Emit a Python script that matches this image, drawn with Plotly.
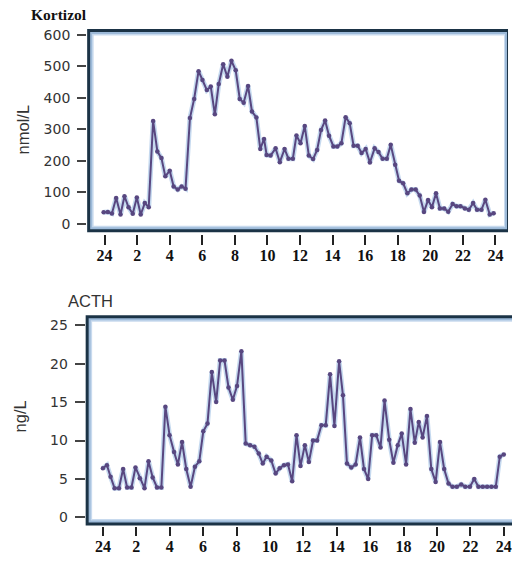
import plotly.graph_objects as go

W, H = 512, 561

# ---------------- data ----------------
hour_ticks = [0, 2, 4, 6, 8, 10, 12, 14, 16, 18, 20, 22, 24]
hour_labels = ["24", "2", "4", "6", "8", "10", "12", "14", "16", "18", "20", "22", "24"]
cort_ticks = [0, 100, 200, 300, 400, 500, 600]
acth_ticks = [0, 5, 10, 15, 20, 25]

hours_cort = [-0.06, 0.2, 0.45, 0.71, 0.98, 1.22, 1.47, 1.73, 1.98, 2.22, 2.47, 2.71, 2.98, 3.24,
              3.49, 3.73, 4.0, 4.24, 4.49, 4.73, 4.97, 5.24, 5.5, 5.77, 6.01, 6.28, 6.52, 6.77,
              7.01, 7.28, 7.54, 7.79, 8.05, 8.3, 8.54, 8.81, 9.05, 9.32, 9.56, 9.79, 9.95, 10.19,
              10.5, 10.76, 11.05, 11.29, 11.56, 11.78, 12.03, 12.29, 12.54, 12.8, 13.05, 13.29,
              13.54, 13.78, 14.05, 14.29, 14.54, 14.8, 15.05, 15.29, 15.54, 15.78, 16.03, 16.29,
              16.58, 16.82, 17.07, 17.33, 17.57, 17.84, 18.08, 18.33, 18.59, 18.84, 19.1, 19.35,
              19.61, 19.86, 20.1, 20.35, 20.59, 20.85, 21.1, 21.37, 21.61, 21.85, 22.12, 22.36,
              22.63, 22.87, 23.14, 23.38, 23.65, 23.89]
cortisol = [37, 38, 33, 82, 30, 88, 53, 32, 84, 30, 66, 53, 327, 230, 209, 151, 169, 119, 109, 119,
            112, 336, 397, 485, 457, 425, 436, 348, 444, 507, 467, 518, 488, 397, 385, 438, 357, 338,
            238, 270, 219, 217, 240, 196, 238, 207, 207, 281, 256, 311, 217, 206, 235, 298, 328, 280,
            246, 246, 256, 339, 320, 248, 248, 225, 238, 195, 240, 228, 207, 207, 251, 188, 137, 129,
            97, 109, 109, 90, 38, 76, 53, 97, 49, 49, 39, 63, 56, 56, 49, 45, 66, 45, 45, 77, 30, 34]

hours_acth = [0.0, 0.24, 0.46, 0.7, 0.96, 1.21, 1.45, 1.71, 1.95, 2.21, 2.49, 2.73, 2.98, 3.24, 3.5,
              3.74, 3.99, 4.26, 4.49, 4.74, 4.99, 5.25, 5.51, 5.77, 6.01, 6.26, 6.52, 6.78, 7.02,
              7.28, 7.52, 7.78, 8.03, 8.29, 8.55, 8.81, 9.07, 9.33, 9.57, 9.8, 10.08, 10.34, 10.58,
              10.84, 11.08, 11.33, 11.59, 11.83, 12.09, 12.33, 12.58, 12.82, 13.08, 13.34, 13.6,
              13.86, 14.14, 14.37, 14.61, 14.87, 15.13, 15.39, 15.63, 15.88, 16.12, 16.36, 16.62,
              16.86, 17.14, 17.39, 17.65, 17.89, 18.15, 18.41, 18.67, 18.91, 19.14, 19.4, 19.66,
              19.92, 20.18, 20.43, 20.69, 20.93, 21.19, 21.45, 21.69, 21.97, 22.23, 22.48, 22.74,
              23.0, 23.26, 23.52, 23.76, 24.0]
acth = [6.4, 6.8, 5.3, 3.8, 3.8, 6.3, 3.9, 3.9, 6.5, 5.1, 3.8, 7.3, 5.2, 3.9, 3.9, 14.4, 10.7, 8.5,
        6.9, 9.8, 6.3, 4.0, 6.6, 7.3, 11.2, 12.2, 18.9, 15.0, 20.4, 20.4, 16.9, 15.3, 17.1, 21.6,
        9.6, 9.4, 9.2, 8.3, 7.0, 7.9, 7.4, 5.7, 6.4, 6.8, 6.9, 4.7, 10.7, 6.7, 9.4, 7.2, 10.0, 10.0,
        12.0, 12.0, 18.6, 11.9, 20.3, 15.9, 7.0, 6.5, 6.9, 10.4, 6.3, 5.0, 10.7, 10.7, 9.1, 15.2,
        10.1, 7.1, 9.4, 10.9, 6.9, 14.1, 9.7, 12.4, 10.4, 13.2, 6.3, 4.6, 9.8, 6.3, 4.4, 4.0, 4.0,
        4.3, 4.0, 4.0, 5.0, 4.0, 4.0, 4.0, 4.0, 4.0, 7.9, 8.2]

# ---------------- styling ----------------
LINE = "#584780"
HALO = "rgba(150,185,225,0.55)"
DARK = "#1b3346"
BAND1 = "#9dbad9"
BAND2 = "#c8daee"


def px(x):
    return x / W


def py(y):
    return 1 - y / H


fig = go.Figure()
for xs, ys, xa, ya in [(hours_cort, cortisol, "x", "y"), (hours_acth, acth, "x2", "y2")]:
    fig.add_trace(go.Scatter(x=xs, y=ys, xaxis=xa, yaxis=ya, mode="lines",
                             line=dict(color=HALO, width=5), hoverinfo="skip", showlegend=False))
    fig.add_trace(go.Scatter(x=xs, y=ys, xaxis=xa, yaxis=ya, mode="lines+markers",
                             line=dict(color=LINE, width=2),
                             marker=dict(color=LINE, size=4.5), showlegend=False))

shapes = []


def frame(x0, y0, x1, y1):
    rects = [
        (x0, y0, x1, y1, DARK),
        (x0 + 3, y0 + 3, x1 - 1, y1 - 3, BAND1),
        (x0 + 5, y0 + 5, x1 - 3, y1 - 5, BAND2),
        (x0 + 6.5, y0 + 6.5, x1 - 4, y1 - 6.5, "white"),
    ]
    for a, b, c, d, col in rects:
        shapes.append(dict(type="rect", xref="paper", yref="paper",
                           x0=px(a), x1=px(c), y0=py(d), y1=py(b),
                           fillcolor=col, line=dict(width=0), layer="below"))


frame(87.5, 27, 510, 231)
frame(86, 314.3, 540, 525.3)

xtickfont = dict(family="Liberation Serif, Times New Roman, serif", size=16, color="#111", weight="bold")
ytickfont = dict(family="DejaVu Sans, Arial, sans-serif", size=14, color="#333")

common_x = dict(tickmode="array", tickvals=hour_ticks, ticktext=hour_labels, ticks="outside",
                tickwidth=2, tickcolor="#222", showgrid=False, zeroline=False, showline=False,
                tickfont=xtickfont, fixedrange=True, ticklabelstandoff=-3,
                ticklabeloverflow="allow")
common_y = dict(tickmode="array", ticks="outside", tickwidth=1.5, tickcolor="#444",
                showgrid=False, zeroline=False, showline=False, tickfont=ytickfont,
                fixedrange=True, ticklabelstandoff=4)

fig.update_layout(
    width=W, height=H, autosize=False,
    margin=dict(l=0, r=0, t=0, b=0),
    paper_bgcolor="white", plot_bgcolor="rgba(0,0,0,0)",
    showlegend=False,
    shapes=shapes,
    xaxis=dict(common_x, domain=[px(87.5), px(509)], range=[-1.070, 24.709], anchor="y", ticklen=10),
    yaxis=dict(common_y, domain=[py(232.5), py(27)], range=[-31.0, 619.3], anchor="x",
               tickvals=cort_ticks, ticklen=9),
    xaxis2=dict(common_x, domain=[px(86), 1.0], range=[-1.032, 24.371], anchor="y2", ticklen=9),
    yaxis2=dict(common_y, domain=[py(526), py(314.3)], range=[-1.127, 26.295], anchor="x2",
                tickvals=acth_ticks, ticklen=10),
    annotations=[
        dict(text="<b>Kortizol</b>", x=px(29), y=py(12.5), xref="paper", yref="paper",
             xanchor="left", yanchor="middle", showarrow=False,
             font=dict(family="Liberation Serif, Times New Roman, serif", size=15.5, color="#111")),
        dict(text="ACTH", x=px(66), y=py(300.5), xref="paper", yref="paper",
             xanchor="left", yanchor="middle", showarrow=False,
             font=dict(family="Liberation Sans, Arial, sans-serif", size=16.5, color="#333")),
        dict(text="nmol/L", x=px(23), y=py(128), xref="paper", yref="paper", textangle=-90,
             xanchor="center", yanchor="middle", showarrow=False,
             font=dict(family="Liberation Sans, Arial, sans-serif", size=16.5, color="#333")),
        dict(text="ng/L", x=px(20), y=py(416), xref="paper", yref="paper", textangle=-90,
             xanchor="center", yanchor="middle", showarrow=False,
             font=dict(family="Liberation Sans, Arial, sans-serif", size=16.5, color="#333")),
    ],
)

fig.write_html("out.html", config={"displayModeBar": False},
               post_script="document.body.style.margin='0';document.body.style.overflow='hidden';")
